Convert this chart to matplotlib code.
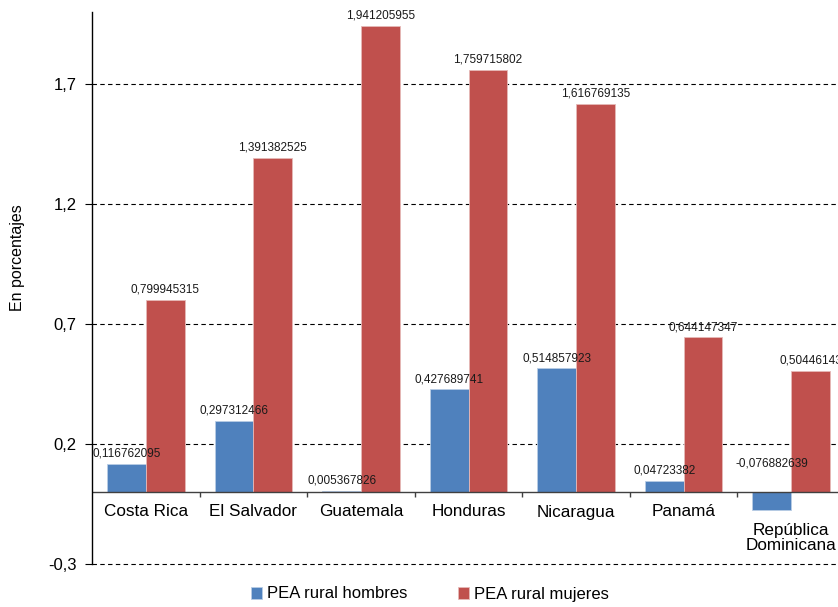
import numpy
import matplotlib
matplotlib.use("Agg")
import matplotlib.pyplot as plt

plt.rcParams["font.family"] = ["Liberation Sans", "DejaVu Sans"]

categories = ["Costa Rica", "El Salvador", "Guatemala", "Honduras",
              "Nicaragua", "Panamá", "República\nDominicana"]
hombres = [0.116762095, 0.297312466, 0.005367826, 0.427689741,
           0.514857923, 0.04723382, -0.076882639]
mujeres = [0.799945315, 1.391382525, 1.941205955, 1.759715802,
           1.616769135, 0.644147347, 0.50446143]
yticks = [-0.3, 0.2, 0.7, 1.2, 1.7]

blue = "#4F81BD"
red = "#C0504D"

W, H = 838, 607
fig = plt.figure(figsize=(W / 100, H / 100), dpi=100)
ax = fig.add_axes([92 / W, 1 - 564 / H, (845 - 92) / W, (564 - 12) / H])

x = numpy.arange(len(categories))
bw = 0.36
b1 = ax.bar(x - bw / 2, hombres, bw, color=blue, edgecolor="#b9cde5",
            linewidth=0.6, zorder=3, label="PEA rural hombres")
b2 = ax.bar(x + bw / 2, mujeres, bw, color=red, edgecolor="#e6b9b8",
            linewidth=0.6, zorder=3, label="PEA rural mujeres")

ax.set_xlim(-0.5, len(categories) - 0.5)
ax.set_ylim(-0.3, 2.0)
ax.set_yticks(yticks)
ax.set_yticklabels([f"{t:.1f}".replace(".", ",") for t in yticks], fontsize=12)
ax.set_xticks([])
ax.tick_params(axis="y", direction="out", length=5, width=0.8, color="black", pad=6)

for s in ["top", "right", "bottom"]:
    ax.spines[s].set_visible(False)
ax.spines["left"].set_color("black")
ax.spines["left"].set_linewidth(1.0)
ax.spines["left"].set_zorder(6)

for t in yticks:
    ax.axhline(t, color="black", linestyle=(0, (4, 3)), linewidth=0.8,
               zorder=1, clip_on=False)
ax.axhline(0, color="#404040", linewidth=1.0, zorder=4)
ax.vlines(x[:-1] + 0.5, -0.022, 0, color="#404040", linewidth=1.0, zorder=4)

# category names sit under the zero line (or under a negative bar)
for xi, cat, v in zip(x, categories, hombres):
    ax.annotate(cat, (xi, min(0, v)), xytext=(0, -9), textcoords="offset points",
                ha="center", va="top", fontsize=12.3, linespacing=1.0)

for bars, vals in [(b1, hombres), (b2, mujeres)]:
    for rect, v in zip(bars, vals):
        ax.annotate(str(v).replace(".", ","),
                    (rect.get_x() + rect.get_width() / 2, abs(v)),
                    xytext=(0, 3), textcoords="offset points",
                    ha="center", va="bottom", fontsize=8.5, color="#1a1a1a",
                    zorder=5)

fig.text(18 / W, 1 - 258 / H, "En porcentajes", rotation=90,
         ha="center", va="center", fontsize=11.5)

fig.legend(handles=[b1, b2], loc="center", bbox_to_anchor=(430 / W, 1 - 594 / H),
           ncol=2, frameon=False, fontsize=12, handlelength=0.7,
           handleheight=0.7, handletextpad=0.3, columnspacing=3.0)

fig.savefig("out.png", dpi=100)
